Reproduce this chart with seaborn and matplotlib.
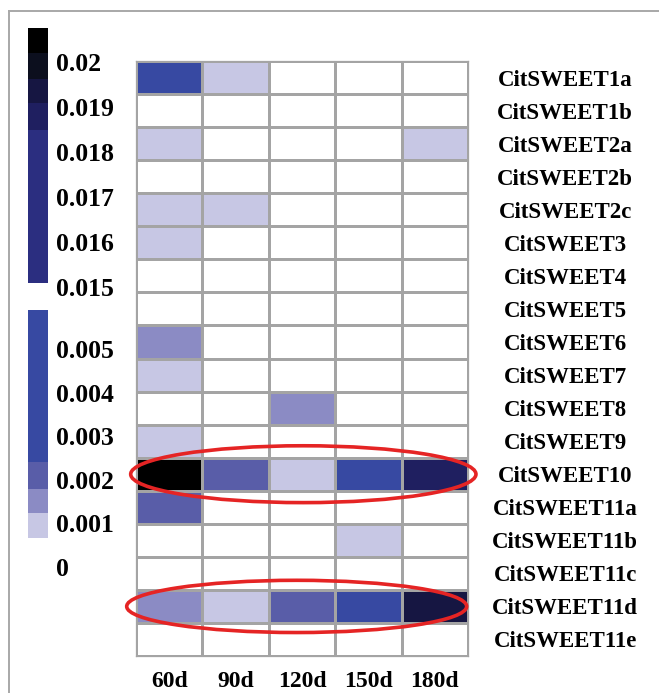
import numpy as np
import pandas as pd
import seaborn as sns
import matplotlib
matplotlib.use("Agg")
import matplotlib.pyplot as plt
from matplotlib.colors import ListedColormap, BoundaryNorm
from matplotlib.patches import Ellipse
from matplotlib.lines import Line2D

# ---- data -------------------------------------------------------------
genes = ["CitSWEET1a", "CitSWEET1b", "CitSWEET2a", "CitSWEET2b", "CitSWEET2c",
         "CitSWEET3", "CitSWEET4", "CitSWEET5", "CitSWEET6", "CitSWEET7",
         "CitSWEET8", "CitSWEET9", "CitSWEET10", "CitSWEET11a", "CitSWEET11b",
         "CitSWEET11c", "CitSWEET11d", "CitSWEET11e"]
stages = ["60d", "90d", "120d", "150d", "180d"]

d60 = [0.0045, 0, 0.0009, 0, 0.0009, 0.0010, 0, 0, 0.0015, 0.0010,
       0, 0.0009, 0.0205, 0.0021, 0, 0, 0.0015, 0]
d90 = [0.0010, 0, 0, 0, 0.0010, 0, 0, 0, 0, 0,
       0, 0, 0.0021, 0, 0, 0, 0.0010, 0]
d120 = [0, 0, 0, 0, 0, 0, 0, 0, 0, 0,
        0.0015, 0, 0.0010, 0, 0, 0, 0.0021, 0]
d150 = [0, 0, 0, 0, 0, 0, 0, 0, 0, 0,
        0, 0, 0.0040, 0, 0.0010, 0, 0.0035, 0]
d180 = [0, 0, 0.0009, 0, 0, 0, 0, 0, 0, 0,
        0, 0, 0.0186, 0, 0, 0, 0.0193, 0]

# colour classes: lower bounds of each class and its colour
bounds = [0, 0.00067, 0.00124, 0.0018, 0.0024, 0.0059, 0.0151,
          0.01849, 0.01909, 0.01962, 0.0202, 0.0208]
colors = ["#ffffff", "#c7c7e4", "#8b8bc4", "#595da8", "#3749a2", "#2b2e80",
          "#2b2e80", "#1f1f60", "#161642", "#0c0f1e", "#000000"]

# legend key: upper part (high values) and lower part (low values)
key_hi_ticks = [0.015, 0.016, 0.017, 0.018, 0.019, 0.02]
key_hi_labels = ["0.015", "0.016", "0.017", "0.018", "0.019", "0.02"]
key_lo_ticks = [0, 0.001, 0.002, 0.003, 0.004, 0.005]
key_lo_labels = ["0", "0.001", "0.002", "0.003", "0.004", "0.005"]

df = pd.DataFrame({"60d": d60, "90d": d90, "120d": d120,
                   "150d": d150, "180d": d180}, index=genes)[stages]

cmap = ListedColormap(colors)
norm = BoundaryNorm(bounds, cmap.N)

serif = ["Liberation Serif", "DejaVu Serif"]

# ---- figure -----------------------------------------------------------
W, H = 659, 693
fig = plt.figure(figsize=(W / 100, H / 100), dpi=100)
fig.patch.set_facecolor("white")


def px_axes(x0, y0, x1, y1):
    return fig.add_axes([x0 / W, 1 - y1 / H, (x1 - x0) / W, (y1 - y0) / H])


ax = px_axes(136, 61, 468, 656)
sns.heatmap(df, ax=ax, cmap=cmap, norm=norm, cbar=False,
            linewidths=0.9, linecolor="#a4a4a4")

# outer border of the grid
for s in ax.spines.values():
    s.set_visible(True)
    s.set_color("#a4a4a4")
    s.set_linewidth(0.9)

ax.yaxis.tick_right()
ax.set_yticks(np.arange(len(genes)) + 0.5)
ax.set_yticklabels(genes, rotation=0, ha="center", fontsize=16.5,
                   fontweight="bold", family=serif)
ax.tick_params(axis="y", length=0, pad=70)
ax.set_xticks(np.arange(len(stages)) + 0.5)
ax.set_xticklabels(stages, rotation=0, fontsize=17, fontweight="bold",
                   family=serif)
ax.tick_params(axis="x", length=0, pad=11)
ax.set_xlabel("")
ax.set_ylabel("")

# highlight rings around the two strongly expressed genes
for gene, cx, w, h in [("CitSWEET10", 2.52, 5.2, 1.72),
                       ("CitSWEET11d", 2.42, 5.12, 1.58)]:
    cy = genes.index(gene) + 0.5
    ax.add_patch(Ellipse((cx, cy), w, h, fill=False, edgecolor="#e52424",
                         linewidth=2.6, clip_on=False, zorder=5))


def draw_key(axk, lo, hi, tick_vals, tick_labels, ylim):
    for b0, b1, c in zip(bounds[:-1], bounds[1:], colors):
        s0, s1 = max(b0, lo), min(b1, hi)
        if s1 > s0:
            axk.bar(0, s1 - s0, bottom=s0, width=1, color=c, linewidth=0)
    axk.set_xlim(-0.5, 0.5)
    axk.set_ylim(*ylim)
    axk.set_xticks([])
    axk.yaxis.tick_right()
    axk.set_yticks(tick_vals)
    axk.set_yticklabels(tick_labels, fontsize=18.5, fontweight="bold",
                        family=serif)
    axk.tick_params(axis="y", length=0, pad=6)
    for s in axk.spines.values():
        s.set_visible(False)
    axk.patch.set_alpha(0)


# upper key: 0.015 .. 0.02 (45 px per 0.001, 0.02 at y=62)
k1 = px_axes(28, 28, 48, 287)
draw_key(k1, 0.0151, 0.0208, key_hi_ticks, key_hi_labels, (0.015, 0.02076))

# lower key: 0 .. 0.005 (43.6 px per 0.001, 0 at y=567)
k2 = px_axes(28, 310, 48, 567)
draw_key(k2, 0.00067, 0.0059, key_lo_ticks, key_lo_labels, (0.0, 0.0059))

# partial frame line along the top and left edges
fig.add_artist(Line2D([9 / W, 1], [1 - 10.5 / H, 1 - 10.5 / H],
                      transform=fig.transFigure, color="#a8a8a8", lw=1.4))
fig.add_artist(Line2D([9 / W, 9 / W], [0, 1 - 10.5 / H],
                      transform=fig.transFigure, color="#a8a8a8", lw=1.4))

fig.savefig("out.png", dpi=100, facecolor="white")
